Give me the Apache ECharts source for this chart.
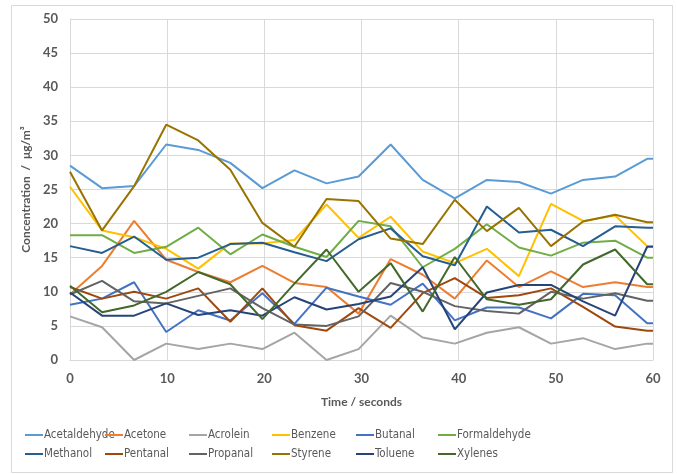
<!DOCTYPE html>
<html>
<head>
<meta charset="utf-8">
<script src="https://cdn.jsdelivr.net/npm/echarts@6/dist/echarts.min.js"></script>
<style>
  html, body { margin: 0; padding: 0; background: #fff; }
  #chart { width: 677px; height: 474px; }
</style>
</head>
<body>
<div id="chart"></div>
<script>
// Sampling times (s)
const times = [0, 3.3, 6.6, 9.9, 13.2, 16.5, 19.8, 23.1, 26.4, 29.7, 33.0, 36.3, 39.6, 42.9, 46.2, 49.5, 52.8, 56.1, 59.4, 60];

// Concentrations (µg/m³) per compound
const acetaldehyde = [28.5, 25.2, 25.5, 31.6, 30.8, 28.9, 25.2, 27.8, 25.9, 26.9, 31.6, 26.4, 23.7, 26.4, 26.1, 24.4, 26.4, 26.9, 29.5, 29.5];
const acetone      = [9.6, 13.8, 20.4, 14.7, 12.9, 11.4, 13.8, 11.3, 10.7, 6.8, 14.8, 12.5, 9.0, 14.6, 10.7, 13.0, 10.7, 11.4, 10.7, 10.7];
const acrolein     = [6.4, 4.8, 0, 2.4, 1.6, 2.4, 1.6, 4.0, 0, 1.6, 6.5, 3.3, 2.4, 4.0, 4.8, 2.4, 3.2, 1.6, 2.4, 2.4];
const benzene      = [25.4, 19.0, 18.0, 16.3, 13.4, 17.1, 17.1, 17.6, 22.8, 17.9, 21.0, 15.9, 14.2, 16.3, 12.3, 22.9, 20.4, 21.2, 16.7, 16.7];
const butanal      = [8.1, 9.0, 11.4, 4.1, 7.3, 5.8, 9.8, 5.3, 10.6, 9.3, 8.1, 11.2, 5.8, 7.7, 7.7, 6.1, 9.7, 9.5, 5.4, 5.4];
const formaldehyde = [18.3, 18.3, 15.7, 16.6, 19.4, 15.5, 18.4, 16.6, 15.1, 20.4, 19.6, 13.6, 16.3, 19.9, 16.5, 15.3, 17.2, 17.5, 15.0, 15.0];
const methanol     = [16.7, 15.7, 18.1, 14.7, 15.0, 17.0, 17.2, 15.8, 14.5, 17.7, 19.3, 15.2, 13.9, 22.5, 18.7, 19.1, 16.7, 19.6, 19.4, 19.4];
const pentanal     = [10.7, 9.0, 10.0, 9.0, 10.5, 5.6, 10.5, 5.1, 4.3, 7.6, 4.7, 9.8, 12.0, 9.1, 9.5, 10.5, 7.8, 4.9, 4.3, 4.3];
const propanal     = [9.6, 11.6, 8.6, 8.3, 9.4, 10.5, 7.6, 5.2, 5.0, 6.4, 11.3, 10.0, 7.9, 7.2, 6.8, 10.0, 9.0, 9.8, 8.7, 8.7];
const styrene      = [27.6, 19.0, 25.5, 34.5, 32.2, 27.9, 20.1, 16.6, 23.6, 23.3, 17.8, 17.0, 23.5, 18.9, 22.3, 16.7, 20.3, 21.3, 20.2, 20.2];
const toluene      = [9.9, 6.5, 6.5, 8.3, 6.6, 7.3, 6.5, 9.2, 7.4, 8.2, 9.3, 13.6, 4.5, 9.9, 11.0, 11.0, 8.6, 6.5, 16.6, 16.6];
const xylenes      = [10.9, 7.0, 8.0, 10.0, 12.9, 11.1, 6.0, 11.2, 16.2, 10.0, 14.2, 7.1, 15.1, 8.9, 8.1, 8.9, 14.0, 16.2, 11.1, 11.1];

const seriesNames = ['Acetaldehyde', 'Acetone', 'Acrolein', 'Benzene', 'Butanal', 'Formaldehyde',
                     'Methanol', 'Pentanal', 'Propanal', 'Styrene', 'Toluene', 'Xylenes'];
const seriesValues = [acetaldehyde, acetone, acrolein, benzene, butanal, formaldehyde,
                      methanol, pentanal, propanal, styrene, toluene, xylenes];
const seriesColors = ['#5B9BD5', '#ED7D31', '#A5A5A5', '#FFC000', '#4472C4', '#70AD47',
                      '#255E91', '#9E480E', '#636363', '#997300', '#264478', '#43682B'];

const xTicks = [0, 10, 20, 30, 40, 50, 60];
const yTicks = [0, 5, 10, 15, 20, 25, 30, 35, 40, 45, 50];

const FONT = 'Lato, "Open Sans", sans-serif';
const LEGEND_FONT = '"DejaVu Sans Condensed", Lato, sans-serif';
const TXT = '#595959';
const GRIDC = '#D9D9D9';

const series = seriesNames.map((name, k) => ({
  name: name,
  type: 'line',
  data: times.map((t, i) => [t, seriesValues[k][i]]),
  showSymbol: false,
  symbol: 'none',
  lineStyle: { width: 2, color: seriesColors[k] },
  itemStyle: { color: seriesColors[k] },
  emphasis: { disabled: true },
  z: 2
}));

// Legend: six columns, two entries each
const colLeft = [20, 100, 184, 267, 351, 433];
const legends = colLeft.map((left, c) => ({
  orient: 'vertical',
  left: left,
  top: 424,
  itemGap: 7,
  itemWidth: 18,
  itemHeight: 2,
  icon: 'rect',
  selectedMode: false,
  data: [seriesNames[c], seriesNames[c + 6]],
  textStyle: { fontFamily: LEGEND_FONT, fontSize: 11.5, color: TXT, padding: [0, 0, 0, -4] }
}));

const chart = echarts.init(document.getElementById('chart'), null, { renderer: 'canvas' });
chart.setOption({
  animation: false,
  backgroundColor: '#fff',
  color: seriesColors,
  graphic: [{
    type: 'rect',
    shape: { x: 11.5, y: 5.5, width: 661, height: 467 },
    style: { fill: 'none', stroke: GRIDC, lineWidth: 1 },
    silent: true,
    z: -1
  }],
  grid: { left: 70, right: 24, top: 19, bottom: 114, containLabel: false },
  xAxis: {
    type: 'value',
    min: xTicks[0],
    max: xTicks[xTicks.length - 1],
    interval: 10,
    name: 'Time / seconds',
    nameLocation: 'middle',
    nameGap: 36,
    nameTextStyle: { fontFamily: FONT, fontSize: 12, fontWeight: 'bold', color: TXT },
    axisLine: { show: true, lineStyle: { color: GRIDC, width: 1 } },
    axisTick: { show: false },
    axisLabel: { fontFamily: FONT, fontSize: 13, fontWeight: 'bold', color: TXT, margin: 12 },
    splitLine: { show: true, lineStyle: { color: GRIDC, width: 1 } }
  },
  yAxis: {
    type: 'value',
    min: yTicks[0],
    max: yTicks[yTicks.length - 1],
    interval: 5,
    name: 'Concentration  /  μg/m³',
    nameLocation: 'middle',
    nameGap: 33,
    nameRotate: 90,
    nameTextStyle: { fontFamily: FONT, fontSize: 12, fontWeight: 'bold', color: TXT },
    axisLine: { show: true, lineStyle: { color: GRIDC, width: 1 } },
    axisTick: { show: false },
    axisLabel: { fontFamily: FONT, fontSize: 13, fontWeight: 'bold', color: TXT, margin: 12 },
    splitLine: { show: true, lineStyle: { color: GRIDC, width: 1 } }
  },
  legend: legends,
  series: series
});
</script>
</body>
</html>
